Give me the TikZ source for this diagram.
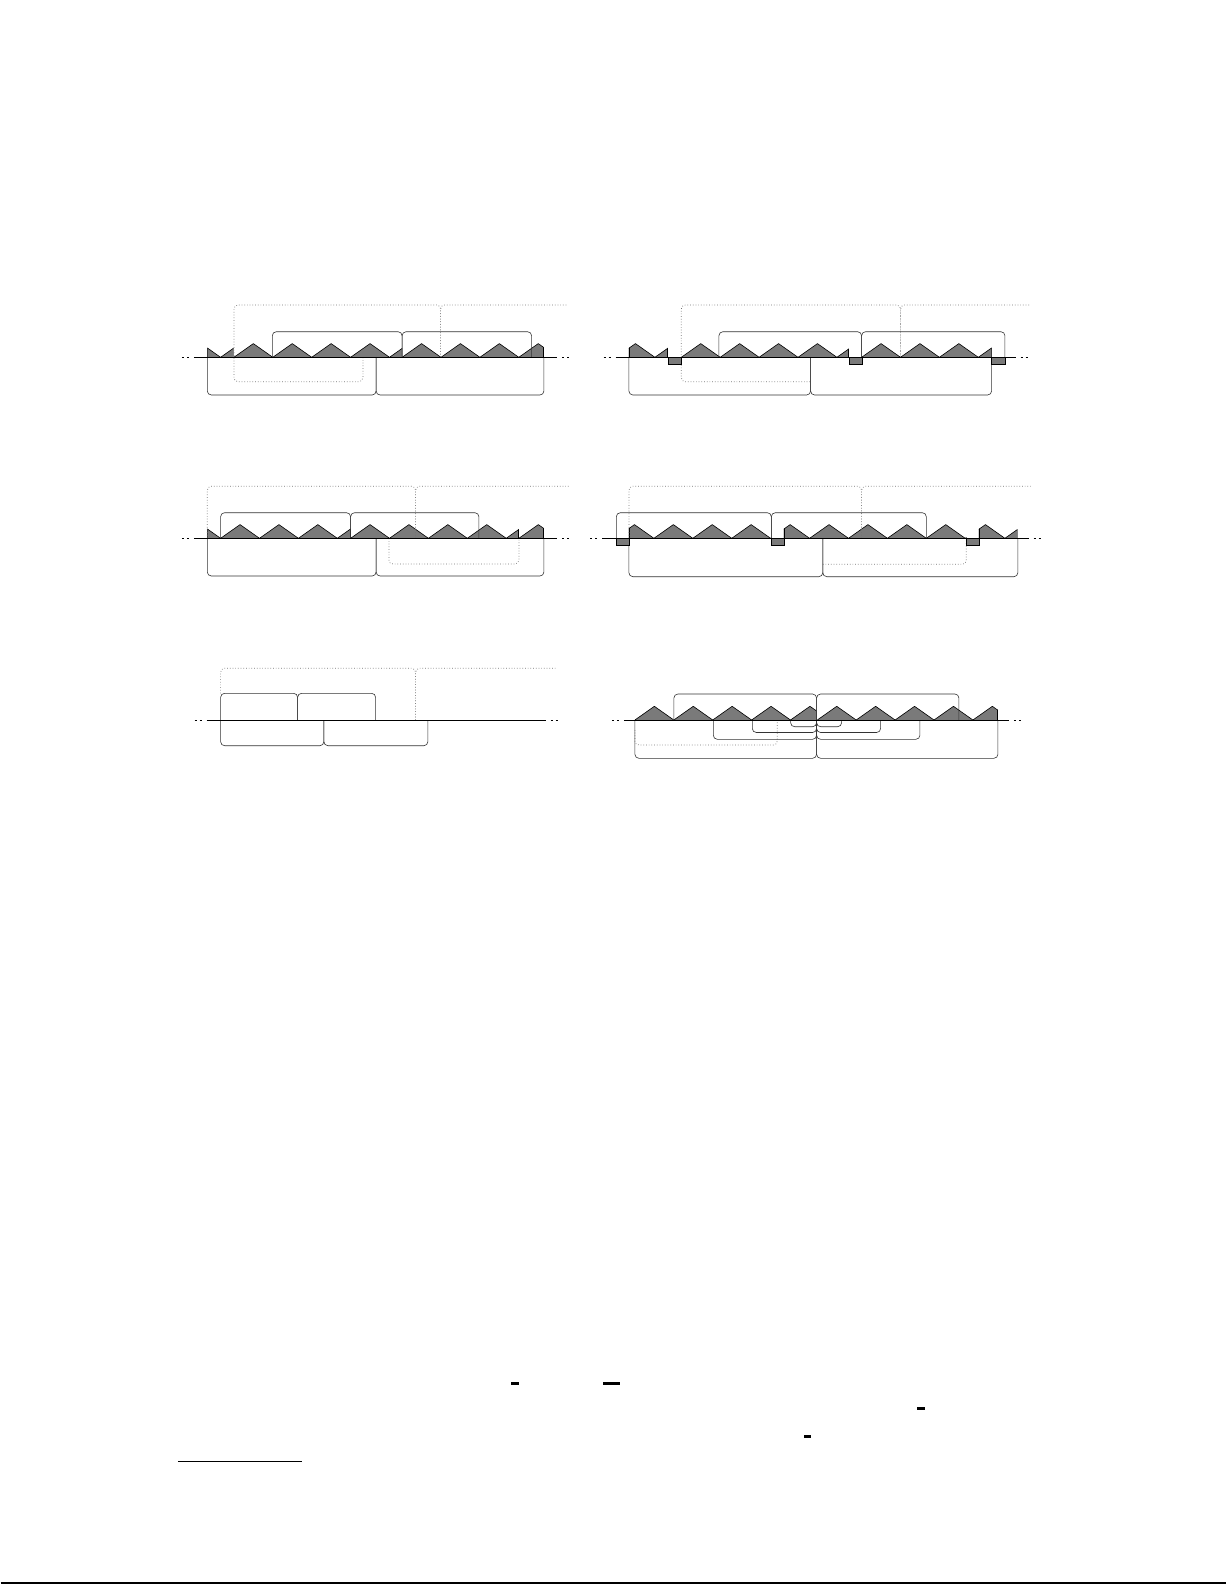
\documentclass[tikz,border=0pt]{standalone}
\def\P{38.9}
\def\H{13.7}
\tikzset{
 axisline/.style={line width=0.8pt, draw=black},
 brk/.style={draw=black!80, line width=0.6pt, rounded corners=4pt},
 dbrk/.style={draw=black!55, line width=0.7pt, dotted, rounded corners=4pt},
 sawfill/.style={fill=black!52},
 sawline/.style={draw=black, line width=0.6pt, line join=round},
 gapbox/.style={fill=black!52, draw=black, line width=0.6pt},
 markbar/.style={fill=black, draw=none},
}
\newcommand\sawseg[5]{% a b v0 n y0
 \begin{scope}
  \clip (#1,{#5+1}) rectangle (#2,{#5-20});
  \fill[sawfill] (#3,#5) \foreach \i in {1,...,#4}{ -- ({#3+(\i-0.5)*\P},{#5-\H}) -- ({#3+\i*\P},#5) } -- cycle;
  \draw[sawline] (#3,#5) \foreach \i in {1,...,#4}{ -- ({#3+(\i-0.5)*\P},{#5-\H}) -- ({#3+\i*\P},#5) };
  \clip (#3,#5) \foreach \i in {1,...,#4}{ -- ({#3+(\i-0.5)*\P},{#5-\H}) -- ({#3+\i*\P},#5) } -- cycle;
  \draw[sawline, line width=1.2pt] (#1,#5) -- (#1,{#5-20}) (#2,#5) -- (#2,{#5-20});
 \end{scope}}
\newcommand\axisrow[3]{% x1 x2 y
 \draw[axisline] (#1,#3) -- (#2,#3);
 \foreach \d in {-11,-6} \draw[axisline] ({#1+\d-1},#3) -- ({#1+\d+1},#3);
 \foreach \d in {6,11} \draw[axisline] ({#2+\d-1},#3) -- ({#2+\d+1},#3);}
\begin{document}
\begin{tikzpicture}[x=1pt,y=-1pt]
\fill[white] (0,0) rectangle (1225,1585);

% ---------- Panel 1 (top left) ----------
\sawseg{206.7}{232.7}{181.1}{2}{357.3}
\sawseg{233.3}{401.5}{233.3}{5}{357.3}
\sawseg{401.5}{543.3}{401.5}{4}{357.3}
\draw[dbrk] (362.3,357.3) -- (362.3,381.7) -- (233.3,381.7) -- (233.3,305) -- (440,305) -- (440,357.3);
\draw[dbrk] (440,357.3) -- (440,305) -- (567,305);
\draw[brk] (271.7,357.3) -- (271.7,331.7) -- (401.5,331.7) -- (401.5,357.3);
\draw[brk] (401.5,357.3) -- (401.5,331.7) -- (531,331.7) -- (531,357.3);
\draw[brk] (206.7,357.3) -- (206.7,395) -- (375.5,395) -- (375.5,357.3);
\draw[brk] (375.5,357.3) -- (375.5,395) -- (543.3,395) -- (543.3,357.3);
\axisrow{193.3}{556.7}{357.3}

% ---------- Panel 2 (top right) ----------
\sawseg{628.3}{667.3}{615.4}{2}{357.3}
\sawseg{680.7}{848.3}{680.7}{5}{357.3}
\sawseg{861}{991}{861}{4}{357.3}
\draw[dbrk] (809.5,381.7) -- (680.7,381.7) -- (680.7,305) -- (900,305) -- (900,357.3);
\draw[dbrk] (900,357.3) -- (900,305) -- (1030,305);
\draw[brk] (718.3,357.3) -- (718.3,331.7) -- (861,331.7) -- (861,357.3);
\draw[brk] (861,357.3) -- (861,331.7) -- (1004.3,331.7) -- (1004.3,357.3);
\draw[brk] (628.3,357.3) -- (628.3,395) -- (810,395) -- (810,357.3);
\draw[brk] (810,357.3) -- (810,395) -- (991,395) -- (991,357.3);
\axisrow{615}{1015}{357.3}
\foreach \g in {667.3,848.3,991} \draw[gapbox] (\g,357.3) rectangle ({\g+13.3},363.8);

% ---------- Panel 3 (middle left) ----------
\sawseg{206.7}{350}{181.1}{5}{538.3}
\sawseg{350}{518.3}{350}{5}{538.3}
\sawseg{518.3}{543.3}{518.3}{1}{538.3}
\draw[dbrk] (206.7,538.3) -- (206.7,486.3) -- (415,486.3) -- (415,538.3);
\draw[dbrk] (415,538.3) -- (415,486.3) -- (570,486.3);
\draw[dbrk] (388.3,538.3) -- (388.3,564) -- (518.3,564) -- (518.3,538.3);
\draw[brk] (220,538.3) -- (220,512.7) -- (350,512.7) -- (350,538.3);
\draw[brk] (350,538.3) -- (350,512.7) -- (478.3,512.7) -- (478.3,538.3);
\draw[brk] (206.7,538.3) -- (206.7,576) -- (375.5,576) -- (375.5,538.3);
\draw[brk] (375.5,538.3) -- (375.5,576) -- (543.3,576) -- (543.3,538.3);
\axisrow{193.3}{556.7}{538.3}

% ---------- Panel 4 (middle right) ----------
\sawseg{628.3}{770.7}{614.4}{5}{538.3}
\sawseg{783.3}{965.7}{770.1}{6}{538.3}
\sawseg{978.3}{1016.7}{965.4}{2}{538.3}
\draw[dbrk] (628.3,538.3) -- (628.3,486.3) -- (861,486.3) -- (861,538.3);
\draw[dbrk] (861,538.3) -- (861,486.3) -- (1030,486.3);
\draw[dbrk] (822.2,564.3) -- (965.7,564.3) -- (965.7,540);
\draw[brk] (615.7,538.3) -- (615.7,512.7) -- (770.7,512.7) -- (770.7,538.3);
\draw[brk] (770.7,538.3) -- (770.7,512.7) -- (925.7,512.7) -- (925.7,538.3);
\draw[brk] (628.3,538.3) -- (628.3,576.7) -- (822.2,576.7) -- (822.2,538.3);
\draw[brk] (822.2,538.3) -- (822.2,576.7) -- (1017.3,576.7) -- (1017.3,538.3);
\axisrow{601.7}{1028}{538.3}
\foreach \g in {615.7,770.7,965.7} \draw[gapbox] (\g,538.3) rectangle ({\g+12.6},545);

% ---------- Panel 5 (bottom left) ----------
\draw[dbrk] (220,693.3) -- (220,668.3) -- (415,668.3) -- (415,720);
\draw[dbrk] (415,720) -- (415,668.3) -- (556.7,668.3);
\draw[brk] (220,720) -- (220,693.3) -- (297,693.3) -- (297,720);
\draw[brk] (297,720) -- (297,693.3) -- (375,693.3) -- (375,720);
\draw[brk] (220,720) -- (220,745.7) -- (323.3,745.7) -- (323.3,720);
\draw[brk] (323.3,720) -- (323.3,745.7) -- (427.3,745.7) -- (427.3,720);
\axisrow{206}{545}{720}

% ---------- Panel 6 (bottom right) ----------
\sawseg{634.3}{815.7}{634.3}{5}{720}
\sawseg{816.7}{997.3}{816.7}{5}{720}
\draw[dbrk] (634.3,730) -- (634.3,745) -- (776.7,745) -- (776.7,720);
\draw[brk] (673.3,720) -- (673.3,694) -- (816,694) -- (816,720);
\draw[brk] (816,720) -- (816,694) -- (958.3,694) -- (958.3,720);
\foreach \l/\r/\b in {634.3/997.3/758.3, 712.7/919.3/739.3, 751.7/880/732.5, 790/841/726.7}{
  \draw[brk] (\l,720) -- (\l,\b) -- (816,\b) -- (816,720);
  \draw[brk] (816,720) -- (816,\b) -- (\r,\b) -- (\r,720);
}
\axisrow{623.3}{1008.3}{720}

% ---------- page marks ----------
\fill[markbar] (510.5,1382) rectangle (518.6,1385);
\fill[markbar] (602.6,1382) rectangle (619.8,1385);
\fill[markbar] (916.6,1407.3) rectangle (924.7,1410.3);
\fill[markbar] (803.2,1434.7) rectangle (810.2,1437.7);
\draw[line width=1.2pt] (177.2,1461.5) -- (301.8,1461.5);
\draw[line width=1.2pt] (0,1583) -- (1225,1583);
\end{tikzpicture}
\end{document}
